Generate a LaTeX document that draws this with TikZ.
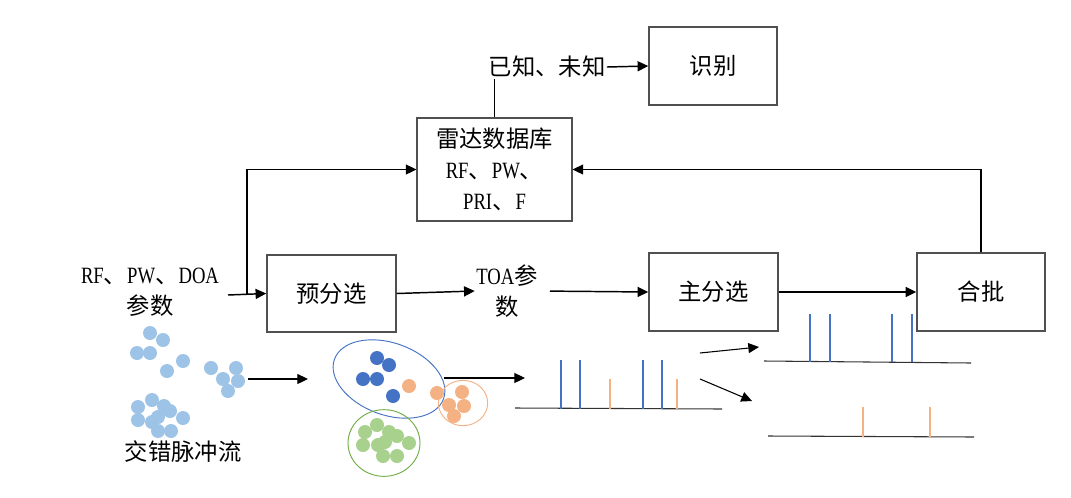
\documentclass[tikz,border=0pt]{standalone}
\usepackage{fontspec}
\setmainfont{Liberation Serif}[FakeStretch=0.8]
\newfontfamily\cjk{Noto Sans CJK SC}
\usetikzlibrary{arrows.meta}
\definecolor{boxgray}{HTML}{505050}
\definecolor{dotlight}{HTML}{9DC3E6}
\definecolor{dotblue}{HTML}{4472C4}
\definecolor{dotorange}{HTML}{F4B183}
\definecolor{dotgreen}{HTML}{A9D18E}
\definecolor{ringgreen}{HTML}{70AD47}
\begin{document}
\begin{tikzpicture}[x=0.75pt,y=-0.75pt,
  font=\fontsize{17.5}{23}\selectfont,
  box/.style={draw=boxgray, line width=1.1pt, inner sep=2pt, align=center},
  lbl/.style={inner sep=1pt, align=center},
  arr/.style={-{Triangle[length=8pt,width=7.5pt]}, line width=1.1pt, black},
  thin arr/.style={-{Triangle[length=8pt,width=7.5pt]}, line width=0.8pt, black},
  dotL/.style={fill=dotlight},
  dotB/.style={fill=dotblue},
  dotO/.style={fill=dotorange},
  dotG/.style={fill=dotgreen},
  pulseB/.style={draw=dotblue, line width=1.5pt},
  pulseO/.style={draw=dotorange, line width=1.3pt},
  base/.style={draw=black!80, line width=0.8pt}
]
\useasboundingbox (0,0) rectangle (1071,497);

% boxes
\node[box, minimum width=96pt, minimum height=58.5pt] (sb) at (713,66) {\cjk 识别};
\node[box, minimum width=116pt, minimum height=77pt] (db) at (494.5,169.5)
  {{\cjk 雷达数据库}\\RF{\cjk 、}PW{\cjk 、}\\PRI{\cjk 、}F};
\node[box, minimum width=96.75pt, minimum height=57.75pt] (pre) at (331.5,293.5) {\cjk 预分选};
\node[box, minimum width=96.75pt, minimum height=58.5pt] (main) at (713.5,292) {\cjk 主分选};
\node[box, minimum width=96pt, minimum height=58.5pt] (hb) at (981,292) {\cjk 合批};

% text labels
\node[lbl] (known) at (547,67) {\cjk 已知、未知};
\node[lbl] (params) at (150,292) {RF{\cjk 、}PW{\cjk 、}DOA\\{\cjk 参数}};
\node[lbl] (toa) at (507,291) {TOA{\cjk 参}\\{\cjk 数}};
\node[lbl] (stream) at (183,452) {\cjk 交错脉冲流};

% connectors
\coordinate (in1) at (228,295);
\coordinate (br) at (247,295);
\draw[arr] (in1) -- (pre.west);
\draw[arr] (br) |- (db.west);
\draw[arr] (pre.east) -- (toa.west);
\draw[arr, shorten <=8pt] (toa.east) -- (main.west);
\draw[arr] (main.east) -- (hb.west);
\draw[arr] (hb.north) |- (db.east);
\draw[line width=1.1pt] (db.north) -- (db.north |- known.south);
\draw[arr] (known.east) -- (sb.west);

% interleaved pulse stream dots
\foreach \x/\y in {150/333,163/340,137/353,150/353,183/361,167/371,211/368,236/368,223/379,238/381,228/391,
                   138/407,152/400,164/406,170/411,138/420,152/422,158/417,183/418,158/431,171/431}
  \fill[dotL] (\x,\y) circle[radius=5.25pt];

\coordinate (s1) at (248,379);
\coordinate (s2) at (308,379);
\draw[thin arr] (s1) -- (s2);

% clusters
\draw[dotblue, line width=0.7pt, rotate around={-20:(389,379)}] (389,379) ellipse[x radius=43.5pt, y radius=27pt];
\draw[ringgreen, line width=0.7pt] (384,443) ellipse[x radius=27pt, y radius=25pt];
\draw[dotorange, line width=0.7pt] (463,403) ellipse[x radius=18.5pt, y radius=17pt];
\foreach \x/\y in {377/358,389/365,363/379,377/379,393/396}
  \fill[dotB] (\x,\y) circle[radius=5.25pt];
\foreach \x/\y in {409/386,437/393,462/392,449/405,464/406,454/416}
  \fill[dotO] (\x,\y) circle[radius=5.25pt];
\foreach \x/\y in {365/432,377/425,389/432,397/436,363/445,378/445,385/442,409/443,383/456,397/456}
  \fill[dotG] (\x,\y) circle[radius=5.25pt];

\coordinate (c1) at (444,378);
\coordinate (c2) at (525,378);
\draw[thin arr] (c1) -- (c2);

% pulse train 1
\draw[base] (515,408) -- (722,409);
\foreach \x in {561,580,643,662} \draw[pulseB] (\x,408.5) -- (\x,360);
\foreach \x in {610,677} \draw[pulseO] (\x,408.5) -- (\x,379);

% split arrows
\coordinate (u1) at (700,353);
\coordinate (u2) at (759,347);
\coordinate (d1) at (700,379);
\coordinate (d2) at (752,401);
\draw[thin arr] (u1) -- (u2);
\draw[thin arr] (d1) -- (d2);

% pulse train 2
\draw[base] (764,361) -- (971,363);
\foreach \x in {810,830,892,912} \draw[pulseB] (\x,362) -- (\x,314);

% pulse train 3
\draw[base] (768,436) -- (974,437);
\foreach \x in {863,930} \draw[pulseO] (\x,436.5) -- (\x,407);
\end{tikzpicture}
\end{document}
